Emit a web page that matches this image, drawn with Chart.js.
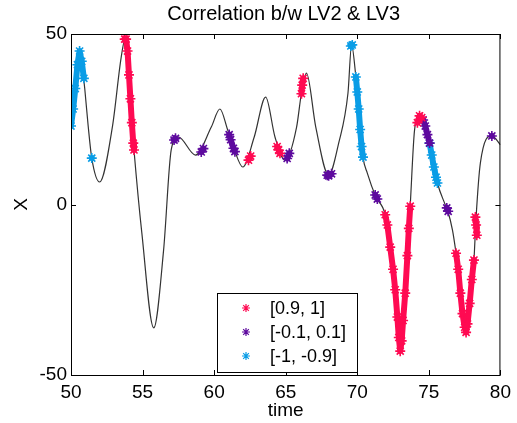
<!DOCTYPE html>
<html lang="en">
<head>
  <meta charset="UTF-8" />
  <title>Correlation b/w LV2 & LV3</title>
  <script src="https://cdn.jsdelivr.net/npm/chart.js"></script>
  <style>
    body { margin: 0; background: #fff; font-family: Arial, "Liberation Sans", sans-serif; }
    #wrap { position: relative; width: 517px; height: 423px; }
  </style>
</head>
<body>
  <div id="wrap"><canvas id="corrChart" width="517" height="423"></canvas></div>

  <script>
    // underlying signal
    const lineTime = [50.0, 50.3, 50.6, 50.85, 50.96, 51.2, 51.45, 52.0, 52.9, 53.5, 53.8, 54.4, 54.95, 55.78, 56.47, 57.0, 57.5, 58.7, 59.8, 60.4, 60.95, 61.4, 62.0, 62.8, 63.6, 64.25, 64.95, 65.76, 66.1, 66.45, 67.1, 68.0, 68.7, 69.35, 69.6, 69.9, 70.4, 70.7, 71.3, 71.95, 72.3, 72.64, 73.0, 73.33, 73.7, 74.0, 74.35, 74.6, 75.05, 75.6, 76.1, 76.3, 76.65, 76.9, 77.6, 77.95, 78.15, 78.3, 78.6, 79.4, 80.0];
    const lineX    = [23, 36, 45, 38, 34, 23, 13.6, 6.6, 23, 43, 48.8, 16, -8.4, -36.2, -13.3, 16, 19.8, 14.5, 22.7, 28, 21.8, 16.2, 11, 19.8, 31.5, 19.8, 13, 22.7, 32.7, 38.5, 22.7, 8.6, 18, 32.7, 46.8, 37.4, 13.9, 9.2, 2.2, -3, -12.5, -25, -43, -27, -0.1, 21.8, 26.2, 24.8, 18, 6.3, 0.4, -1.6, -7.5, -14.3, -37.4, -26, -16.3, -3.7, 12.2, 20.1, 17.5];

    // correlation classes, each as a list of stretches
    const classLabels = ["[0.9, 1]", "[-0.1, 0.1]", "[-1, -0.9]"];
    const classColors = ["#ff0a52", "#5e0a9e", "#0a9de6"];

    const redTime = [
      [53.75, 53.85, 53.95, 54.05, 54.15, 54.25, 54.35, 54.4],
      [62.4, 62.55],
      [64.4, 64.5, 64.6],
      [66.1, 66.15, 66.22],
      [71.95, 72.1, 72.3, 72.5, 72.65, 72.8, 72.9, 73.0, 73.1, 73.2, 73.35, 73.5, 73.6, 73.7],
      [74.2, 74.35, 74.5],
      [76.9, 77.05, 77.2, 77.35, 77.5, 77.6, 77.7, 77.85, 78.0, 78.15],
      [78.25, 78.3, 78.35]
    ];
    const redX = [
      [48.5, 48.5, 45, 38, 31, 24, 18, 16],
      [13, 14.2],
      [17, 16, 15],
      [32.5, 35, 37],
      [-3, -6, -12.5, -19, -25, -33, -39, -43, -40, -34, -26, -15, -7, -0.5],
      [24, 26, 25.5],
      [-14.3, -19, -26, -32, -36, -37.5, -35, -29, -22, -16.3],
      [-3.7, -6, -9]
    ];

    const purpleTime = [
      [57.2, 57.3],
      [59.1, 59.25],
      [61.05, 61.15, 61.35, 61.45],
      [65.1, 65.25],
      [67.9, 68.0, 68.2],
      [71.25, 71.4],
      [74.6, 74.75, 74.9, 75.05],
      [76.25, 76.35],
      [79.4]
    ];
    const purpleX = [
      [18.9, 19.4],
      [15.4, 16.4],
      [20.5, 19, 16.5, 15.5],
      [13.5, 15],
      [8.6, 8.4, 9],
      [2.8, 1.6],
      [24.8, 23, 20.5, 18],
      [-1, -2],
      [20.1]
    ];

    const blueTime = [
      [50.0, 50.15, 50.3, 50.45, 50.6, 50.75, 50.9],
      [51.45],
      [69.55, 69.65],
      [69.9, 70.0, 70.1, 70.2, 70.3, 70.4],
      [75.05, 75.2, 75.35, 75.5, 75.6]
    ];
    const blueX = [
      [23, 28, 34, 41, 45, 42, 37],
      [13.6],
      [46.5, 46.8],
      [37.4, 33, 28, 22, 17, 13.9],
      [18, 14.5, 11, 8, 6.3]
    ];

    const xTicks = [50, 55, 60, 65, 70, 75, 80];
    const yTicks = [-50, 0, 50];
    const chartTitle = "Correlation b/w LV2 & LV3";
    const fontFam = "Arial, 'Liberation Sans', sans-serif";

    function joinStretches(times, values) {
      const pts = [];
      times.forEach(function (ts, i) {
        if (i > 0) pts.push({ x: ts[0], y: null });
        ts.forEach(function (t, j) { pts.push({ x: t, y: values[i][j] }); });
      });
      return pts;
    }

    function classSet(label, color, times, values) {
      return {
        label: label,
        data: joinStretches(times, values),
        showLine: true,
        spanGaps: false,
        order: 0,
        borderColor: color,
        backgroundColor: color,
        borderWidth: 6,
        borderJoinStyle: "round",
        borderCapStyle: "round",
        pointStyle: "star",
        pointRadius: 5,
        pointBorderWidth: 1.6,
        pointBorderColor: color,
        pointBackgroundColor: color
      };
    }

    // frame + inward ticks like the original figure, title and the boxed legend
    const framePlugin = {
      id: "frame",
      afterDraw(chart) {
        const c = chart.ctx, a = chart.chartArea;
        const xs = chart.scales.x, ys = chart.scales.y;
        c.save();
        c.strokeStyle = "#000";
        c.lineWidth = 1;
        c.strokeRect(a.left + 0.5, a.top + 0.5, a.right - a.left - 1, a.bottom - a.top);
        c.beginPath();
        xTicks.forEach(function (v) {
          const px = Math.round(xs.getPixelForValue(v)) + 0.5;
          c.moveTo(px, a.bottom); c.lineTo(px, a.bottom - 5);
          c.moveTo(px, a.top); c.lineTo(px, a.top + 5);
        });
        yTicks.forEach(function (v) {
          const py = Math.round(ys.getPixelForValue(v)) + 0.5;
          c.moveTo(a.left, py); c.lineTo(a.left + 5, py);
          c.moveTo(a.right, py); c.lineTo(a.right - 5, py);
        });
        c.stroke();

        // title over the plot box
        c.fillStyle = "#000";
        c.font = "20px " + fontFam;
        c.textAlign = "center";
        c.textBaseline = "middle";
        c.fillText(chartTitle, (a.left + a.right) / 2 - 2, 14);

        // legend box
        const lx = 217, ly = 293, lw = 140, lh = 79;
        c.fillStyle = "#fff";
        c.fillRect(lx, ly, lw, lh);
        c.strokeStyle = "#000";
        c.strokeRect(lx + 0.5, ly + 0.5, lw, lh);
        c.font = "18px " + fontFam;
        c.textBaseline = "middle";
        c.textAlign = "left";
        classLabels.forEach(function (lab, i) {
          const ry = ly + 15 + i * 24;
          c.strokeStyle = classColors[i];
          c.fillStyle = classColors[i];
          c.lineWidth = 1.2;
          Chart.helpers.drawPoint(c, { pointStyle: "star", radius: 4, borderWidth: 1.2 }, lx + 29, ry);
          c.fillStyle = "#000";
          c.fillText(lab, lx + 53, ry + 1);
        });
        c.restore();
      }
    };

    const tickFont = { family: fontFam, size: 19 };
    const ctx = document.getElementById("corrChart").getContext("2d");
    new Chart(ctx, {
      type: "scatter",
      data: {
        datasets: [
          classSet(classLabels[0], classColors[0], redTime, redX),
          classSet(classLabels[1], classColors[1], purpleTime, purpleX),
          classSet(classLabels[2], classColors[2], blueTime, blueX),
          {
            label: "signal",
            data: lineTime.map(function (t, i) { return { x: t, y: lineX[i] }; }),
            showLine: true,
            order: 5,
            borderColor: "#333",
            borderWidth: 1.2,
            pointRadius: 0,
            cubicInterpolationMode: "monotone"
          }
        ]
      },
      options: {
        responsive: false,
        animation: false,
        layout: { padding: { right: 10, top: 34, bottom: 0, left: 0 } },
        plugins: {
          legend: { display: false },
          tooltip: { enabled: false },
          title: { display: false }
        },
        scales: {
          x: {
            type: "linear",
            min: 50, max: 80,
            afterFit: function (s) { s.height = 48; },
            afterBuildTicks: function (s) { s.ticks = xTicks.map(function (v) { return { value: v }; }); },
            grid: { display: false, drawTicks: false },
            border: { display: false },
            ticks: { color: "#000", padding: 6, font: tickFont },
            title: { display: true, text: "time", color: "#000", padding: { top: 0, bottom: 1 }, font: tickFont }
          },
          y: {
            type: "linear",
            min: -50, max: 50,
            afterFit: function (s) { s.width = 71; },
            afterBuildTicks: function (s) { s.ticks = yTicks.map(function (v) { return { value: v }; }); },
            grid: { display: false, drawTicks: false },
            border: { display: false },
            ticks: { color: "#000", padding: 4, font: tickFont },
            title: { display: true, text: "X", color: "#000", padding: { top: 10, bottom: 0 }, font: tickFont }
          }
        }
      },
      plugins: [framePlugin]
    });
  </script>
</body>
</html>
